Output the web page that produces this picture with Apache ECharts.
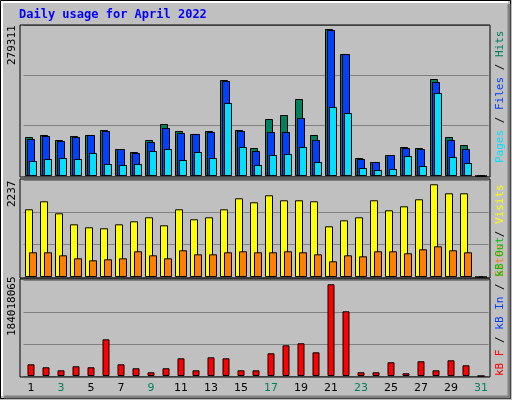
<!DOCTYPE html>
<html>
<head>
<meta charset="utf-8">
<script src="https://cdn.jsdelivr.net/npm/echarts@6/dist/echarts.min.js"></script>
<style>
  html, body { margin: 0; padding: 0; background: #c0c0c0; }
  #chart { width: 512px; height: 400px; }
</style>
</head>
<body>
<div id="chart"></div>
<script>
var days = [];
for (var d = 1; d <= 31; d++) days.push(String(d));
var weekends = ['2', '3', '9', '10', '16', '17', '23', '24', '30', '31'];

var hits = [72140, 75840, 66590, 74000, 75840, 85090, 49940, 44390, 66590, 96190,
    83240, 77690, 83240, 177570, 85090, 51790, 105430, 112830, 142430, 75840,
    271910, 225670, 33300, 25900, 38840, 53640, 51790, 179420, 72140, 57340, 0];
var files = [68440, 74000, 64740, 72140, 75840, 83240, 49940, 42540, 62890, 88790,
    79540, 77690, 81390, 175720, 83240, 46240, 81390, 81390, 107280, 66590,
    270060, 225670, 31450, 25900, 38840, 51790, 49940, 173870, 66590, 49940, 0];
var pages = [27750, 31450, 33300, 31450, 42540, 22200, 20350, 22200, 46240, 49940,
    29600, 44390, 33300, 135030, 53640, 20350, 38840, 40690, 53640, 25900,
    127630, 116530, 14800, 11100, 12950, 37000, 18500, 153520, 35150, 24050, 0];
var visits = [1561, 1746, 1469, 1215, 1146, 1123, 1215, 1284, 1377, 1192,
    1561, 1331, 1377, 1561, 1815, 1723, 1884, 1769, 1769, 1746,
    1169, 1307, 1377, 1769, 1538, 1630, 1792, 2138, 1930, 1930, 0];
var sites = [570, 570, 500, 431, 385, 408, 431, 593, 500, 431,
    616, 523, 523, 570, 593, 570, 570, 593, 570, 523,
    362, 500, 477, 593, 593, 547, 639, 708, 616, 570, 0];
var kbytes = [22.4, 16.7, 10.9, 18.6, 16.7, 70.3, 22.4, 14.8, 7.1, 14.8,
    33.9, 10.9, 35.8, 33.9, 10.9, 10.9, 43.5, 58.8, 62.7, 45.4,
    175.8, 124.0, 7.1, 7.1, 26.3, 5.2, 28.2, 10.9, 30.1, 20.5, 0].map(function (v) { return v * 1e6; });

var maxHits = 279311, maxVisits = 2237, maxKB = 184018065;

var mono = 'DejaVu Sans Mono';
var grids = [
    {left: 23.5, top: 25, width: 465, height: 151},
    {left: 23.5, top: 180, width: 465, height: 97},
    {left: 23.5, top: 280, width: 465, height: 96}
];

function xAx(i, show) {
    return {
        type: 'category', gridIndex: i, data: days,
        axisLine: {show: false}, axisTick: {show: false},
        axisLabel: {
            show: show, margin: 7, fontFamily: 'DejaVu Sans', fontSize: 11,
            color: function (v) { return weekends.indexOf(v) >= 0 ? '#00805c' : '#000'; }
        }
    };
}
function yAx(i, max) {
    return {
        type: 'value', gridIndex: i, min: 0, max: max, interval: max / 3,
        axisLabel: {show: false}, axisLine: {show: false}, axisTick: {show: false},
        splitLine: {lineStyle: {color: '#808080', width: 1}}
    };
}
function bar(name, data, i, color, w, gap) {
    return {
        name: name, type: 'bar', xAxisIndex: i, yAxisIndex: i, data: data,
        barWidth: w, barGap: gap, silent: true, animation: false,
        itemStyle: {color: color, borderColor: '#000', borderWidth: 1}
    };
}

function frame(y, h) {
    return {type: 'rect', shape: {x: 20, y: y, width: 470, height: h},
        style: {fill: null, stroke: '#000', lineWidth: 1}, z: 1};
}
function vtext(x, y, rich, parts) {
    return {type: 'text', x: x, y: y, rotation: Math.PI / 2,
        style: {text: parts, rich: rich, font: '11px ' + mono, fill: '#000'}};
}
var rich = {
    c: {fill: '#00e0ff', font: '11px ' + mono},
    b: {fill: '#0040ff', font: '11px ' + mono},
    g: {fill: '#00805c', font: '11px ' + mono},
    y: {fill: '#ffff00', font: '11px ' + mono},
    o: {fill: '#ff8000', font: '11px ' + mono},
    r: {fill: '#ff0000', font: '11px ' + mono},
    l: {fill: '#00c000', font: '11px ' + mono},
    k: {fill: '#000', font: '11px ' + mono}
};

var option = {
    backgroundColor: '#c0c0c0',
    animation: false,
    grid: grids,
    xAxis: [xAx(0, false), xAx(1, false), xAx(2, true)],
    yAxis: [yAx(0, maxHits), yAx(1, maxVisits), yAx(2, maxKB)],
    series: [
        bar('Hits', hits, 0, '#00805c', 8, '-75%'),
        bar('Files', files, 0, '#0040ff', 8, '-75%'),
        bar('Pages', pages, 0, '#00e0ff', 8, '-75%'),
        bar('Visits', visits, 1, '#ffff00', 8, '-50%'),
        bar('Sites', sites, 1, '#ff8000', 8, '-50%'),
        bar('kB F', kbytes, 2, '#ff0000', 7, '0%')
    ],
    graphic: [
        {type: 'rect', shape: {x: 0.5, y: 0.5, width: 510, height: 398},
            style: {fill: null, stroke: '#000', lineWidth: 1}},
        {type: 'polyline', shape: {points: [[2, 396], [2, 2], [508, 2]]},
            style: {stroke: '#fff', lineWidth: 2, fill: null}},
        {type: 'polyline', shape: {points: [[509, 4], [509, 397], [4, 397]]},
            style: {stroke: '#808080', lineWidth: 3, fill: null}},
        frame(25, 152), frame(179, 99), frame(279, 98),
        {type: 'text', x: 19, y: 9,
            style: {text: 'Daily usage for April 2022', font: 'bold 12px ' + mono, fill: '#0000ff'}},
        vtext(7, 65, {}, '279311'),
        vtext(7, 207, {}, '2237'),
        vtext(7, 336, {}, '184018065'),
        vtext(495, 163, rich, '{c|Pages} {k|/} {b|Files} {k|/} {g|Hits}'),
        vtext(495, 277, rich, '{o|Sites} {k|/} {y|Visits}'),
        vtext(495, 376, rich, '{r|kB F} {k|/} {b|kB In} {k|/} {l|kB Out}')
    ]
};

var chart = echarts.init(document.getElementById('chart'));
chart.setOption(option);
</script>
</body>
</html>
